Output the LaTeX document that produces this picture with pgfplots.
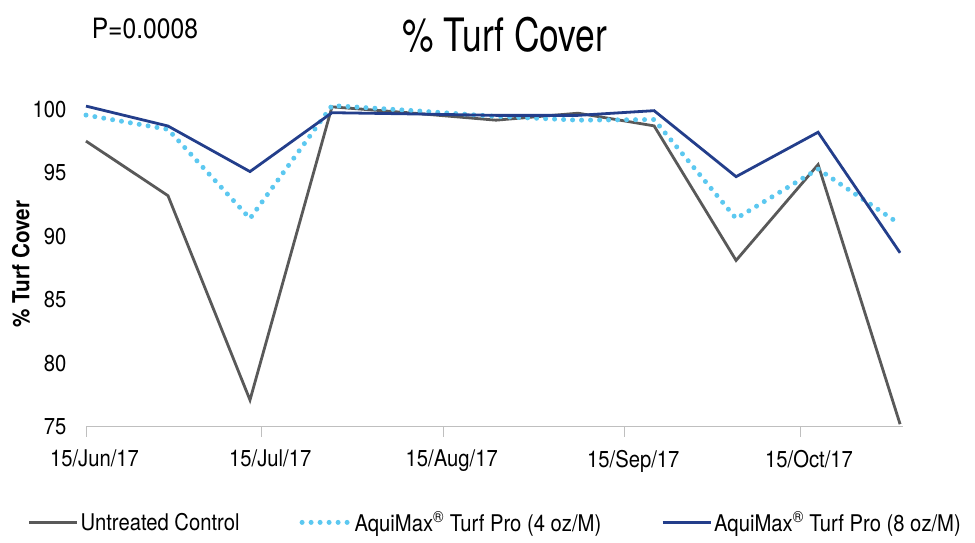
\documentclass[border=0pt]{standalone}
\usepackage{fontspec}
\setmainfont{TeX Gyre Heros}[FakeStretch=0.88]
\newfontfamily\titlefont{TeX Gyre Heros}[FakeStretch=0.77]
\usepackage{pgfplots}
\usepackage{pgfplotstable}
\pgfplotsset{compat=1.18}

\definecolor{ctrlgray}{RGB}{89,89,89}
\definecolor{lightaqua}{RGB}{92,200,240}
\definecolor{navyaqua}{RGB}{35,62,139}
\definecolor{axisgray}{RGB}{191,191,191}

% days after 15/Jun/17
\pgfplotstableread{
day  ctrl   low    high
0    97.5   99.55  100.26
14   93.2   98.43  98.69
28   77.1   91.4   95.1
42   100.2  100.3  99.74
56   99.7   99.9   99.64
70   99.15  99.45  99.53
84   99.7   99.15  99.53
97   98.7   99.2   99.9
111  88.1   91.4   94.7
125  95.65  95.3   98.2
139  75.2   90.95  88.7
}\turf

\begin{document}
\begin{tikzpicture}[x=1pt,y=1pt]
\path[use as bounding box] (0,0) rectangle (975,543);
\begin{axis}[
  at={(86pt,116.3pt)}, anchor=south west,
  scale only axis, width=817pt, height=330pt,
  xmin=0, xmax=139.5, ymin=75, ymax=101,
  clip=false,
  axis x line*=bottom, axis y line*=left,
  x axis line style={draw=axisgray, line width=1pt},
  y axis line style={draw=none},
  xtick={0,30,61,92,122},
  xticklabels={15/Jun/17,15/Jul/17,15/Aug/17,15/Sep/17,15/Oct/17},
  ytick={75,80,85,90,95,100},
  xtick style={draw=axisgray, line width=1pt},
  ytick style={draw=none},
  tick align=outside, major tick length=10pt,
  tick label style={font=\fontsize{23}{27}\selectfont},
  /pgf/number format/assume math mode=true,
  xticklabel style={anchor=north, inner sep=0pt, yshift=-13pt, xshift=8.5pt},
  yticklabel style={anchor=east, inner sep=0pt, xshift=-9.5pt},
  legend style={draw=none, fill=none, at={(0.501,-0.29)}, anchor=center,
    font=\fontsize{23}{27}\selectfont, legend columns=3,
    /tikz/every even column/.append style={column sep=58pt}},
  legend image code/.code={\draw[#1] (0pt,0pt) -- (48pt,0pt);},
]
\addplot[ctrlgray, line width=2.8pt] table[x=day, y=ctrl] {\turf};
\addlegendentry{Untreated Control}
\addplot[lightaqua, line width=5pt, line cap=round, dash pattern=on 0pt off 9pt] table[x=day, y=low] {\turf};
\addlegendentry{AquiMax\textsuperscript{®} Turf Pro (4 oz/M)}
\addplot[navyaqua, line width=2.8pt] table[x=day, y=high] {\turf};
\addlegendentry{AquiMax\textsuperscript{®} Turf Pro (8 oz/M)}
\end{axis}
\node[font=\titlefont\fontsize{46}{50}\selectfont, anchor=base, inner sep=0pt] at (505,491) {\% Turf Cover};
\node[font=\fontsize{28}{32}\selectfont, anchor=base west, inner sep=0pt] at (91.6,504) {P=0.0008};
\node[font=\bfseries\fontsize{23.5}{28}\selectfont, rotate=90, anchor=base, inner sep=0pt] at (29.3,279) {\% Turf Cover};
\end{tikzpicture}
\end{document}
